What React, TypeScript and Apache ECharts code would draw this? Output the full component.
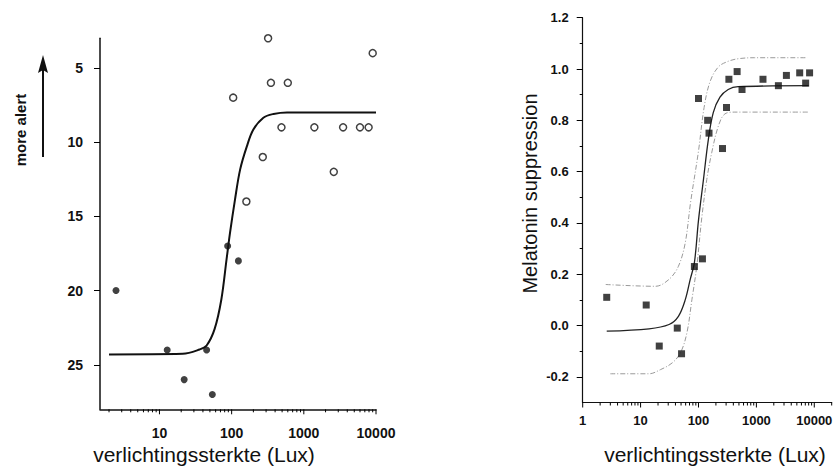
import React, { useEffect, useRef } from 'react';
import * as echarts from 'echarts';

const FONT = '"Liberation Sans", Arial, Helvetica, sans-serif';

// ---------- left panel ----------
const leftXMin = 1.5;
const leftXMax = 10000;
const leftYMin = 3;
const leftYMax = 28;
const leftYTicks = [5, 10, 15, 20, 25];
const leftMajorTicks = [10, 100, 1000, 10000];
const leftMinorTicks = [2, 3, 4, 5, 6, 7, 8, 9, 20, 30, 40, 50, 60, 70, 80, 90, 200, 300, 400, 500, 600, 700, 800, 900, 2000, 3000, 4000, 5000, 6000, 7000, 8000, 9000];

const leftFilledX = [2.5, 12.8, 22, 45, 54, 88, 124];
const leftFilledY = [20, 24, 26, 24, 27, 17, 18];
const leftOpenX = [105, 160, 270, 320, 350, 490, 600, 1400, 2600, 3500, 6000, 7900, 9000];
const leftOpenY = [7, 14, 11, 3, 6, 9, 6, 9, 12, 9, 9, 9, 4];
const leftCurveX = [2, 21, 36, 45, 58, 72, 85, 95, 111, 131, 162, 200, 275, 380, 585, 10000];
const leftCurveY = [24.3, 24.26, 23.97, 23.7, 22.6, 20.6, 17.9, 16.1, 13.9, 11.85, 10.3, 9.15, 8.35, 8.1, 8.0, 8.0];

// ---------- right panel ----------
const rightXMin = 1;
const rightXMax = 20000;
const rightYMin = -0.3;
const rightYMax = 1.2;
const rightYTicks = [-0.2, 0, 0.2, 0.4, 0.6, 0.8, 1.0, 1.2];
const rightYMinorTicks = [-0.1, 0.1, 0.3, 0.5, 0.7, 0.9, 1.1];
const rightMajorTicks = [1, 10, 100, 1000, 10000];
const rightMinorTicks = [2, 3, 4, 5, 6, 7, 8, 9, 20, 30, 40, 50, 60, 70, 80, 90, 200, 300, 400, 500, 600, 700, 800, 900, 2000, 3000, 4000, 5000, 6000, 7000, 8000, 9000, 20000];

const rightX = [2.6, 12.5, 21, 43, 51, 85, 100, 117, 144, 152, 260, 305, 335, 465, 565, 1300, 2400, 3300, 5600, 7100, 8300];
const rightY = [0.11, 0.08, -0.08, -0.01, -0.11, 0.23, 0.885, 0.26, 0.8, 0.75, 0.69, 0.85, 0.96, 0.99, 0.92, 0.96, 0.935, 0.975, 0.985, 0.945, 0.985];

const fitX = [2.6, 14, 31, 45, 59, 72, 85, 100, 122, 148, 180, 235, 326, 483, 8000];
const fitY = [-0.022, -0.013, 0.004, 0.036, 0.1, 0.18, 0.245, 0.41, 0.57, 0.725, 0.83, 0.89, 0.92, 0.931, 0.935];
const upperX = [2.5, 18, 31, 45, 59, 73, 100, 125, 158, 220, 326, 483, 930, 7600];
const upperY = [0.16, 0.153, 0.18, 0.231, 0.322, 0.48, 0.68, 0.85, 0.95, 1.008, 1.03, 1.04, 1.044, 1.044];
const lowerX = [3, 14, 22, 35, 48.7, 63, 77, 93.4, 114, 139, 169, 220, 286, 424, 8100];
const lowerY = [-0.188, -0.188, -0.172, -0.146, -0.107, -0.029, 0.101, 0.231, 0.42, 0.569, 0.673, 0.777, 0.825, 0.832, 0.832];

const zip = (xs: number[], ys: number[]) => xs.map((x, i) => [x, ys[i]]);

const tickSeries = (axisIndex: number, base: number, major: number[], minor: number[]) => ({
  type: 'custom',
  xAxisIndex: axisIndex,
  yAxisIndex: axisIndex,
  clip: false,
  silent: true,
  z: 5,
  data: major.map((v) => [v, base, 1]).concat(minor.map((v) => [v, base, 0])),
  renderItem: (_params: any, api: any) => {
    const p = api.coord([api.value(0), api.value(1)]);
    const len = api.value(2) ? 5 : 3;
    return {
      type: 'line',
      shape: { x1: p[0], y1: p[1], x2: p[0], y2: p[1] + len },
      style: { stroke: '#000', lineWidth: 1 },
    };
  },
});

export default function App() {
  const ref = useRef<HTMLDivElement>(null);
  useEffect(() => {
    if (!ref.current) return;
    const chart = echarts.init(ref.current, undefined, { renderer: 'svg' });
    const labelBase = { color: '#111', fontFamily: FONT, fontWeight: 'bold' as const };
    const textStyle = (text: string, fontSize: number, bold = false) => ({
      text, fontSize, fontWeight: bold ? 'bold' : 'normal', fontFamily: FONT, fill: '#111',
      align: 'center', verticalAlign: 'middle', textAlign: 'center', textVerticalAlign: 'middle',
    });
    const option: any = {
      animation: false,
      backgroundColor: '#fff',
      grid: [
        { left: 100, top: 38.3, width: 276, height: 371, containLabel: false, outerBoundsMode: 'none' },
        { left: 582.7, top: 17.7, width: 249, height: 384.8, containLabel: false, outerBoundsMode: 'none' },
      ],
      xAxis: [
        {
          gridIndex: 0, type: 'log', logBase: 10, min: leftXMin, max: leftXMax, splitNumber: 5,
          axisLine: { show: true, onZero: false, lineStyle: { color: '#111', width: 1.5 } },
          axisTick: { show: false }, splitLine: { show: false }, minorTick: { show: false },
          axisLabel: { ...labelBase, fontSize: 14, margin: 17, interval: 0, showMinLabel: false, showMaxLabel: true, formatter: (v: number) => String(v) },
        },
        {
          gridIndex: 1, type: 'log', logBase: 10, min: rightXMin, max: rightXMax, splitNumber: 5,
          axisLine: { show: true, onZero: false, lineStyle: { color: '#111', width: 1.2 } },
          axisTick: { show: false }, splitLine: { show: false }, minorTick: { show: false },
          axisLabel: { ...labelBase, fontSize: 13, margin: 11, interval: 0, showMinLabel: true, showMaxLabel: false, formatter: (v: number) => String(v) },
        },
      ],
      yAxis: [
        {
          gridIndex: 0, type: 'value', inverse: true, min: leftYMin, max: leftYMax,
          axisLine: { show: true, onZero: false, lineStyle: { color: '#111', width: 1.5 } },
          axisTick: { show: true, inside: false, length: 6, customValues: leftYTicks, lineStyle: { color: '#000', width: 1 } },
          axisLabel: { ...labelBase, fontSize: 14, margin: 17, customValues: leftYTicks },
          splitLine: { show: false },
        },
        {
          gridIndex: 1, type: 'value', min: rightYMin, max: rightYMax,
          axisLine: { show: true, onZero: false, lineStyle: { color: '#111', width: 1.2 } },
          axisTick: { show: true, inside: false, length: 6, customValues: rightYTicks, lineStyle: { color: '#000', width: 1 } },
          axisLabel: { ...labelBase, fontSize: 13, margin: 14, customValues: rightYTicks, formatter: (v: number) => v.toFixed(1) },
          splitLine: { show: false },
        },
        {
          gridIndex: 1, type: 'value', min: rightYMin, max: rightYMax, position: 'left',
          axisLine: { show: false, onZero: false },
          axisTick: { show: true, inside: false, length: 3, customValues: rightYMinorTicks, lineStyle: { color: '#000', width: 1 } },
          axisLabel: { show: false },
          splitLine: { show: false },
        },
      ],
      graphic: [
        { type: 'text', x: 20, y: 130, rotation: Math.PI / 2, style: textStyle('more alert', 15, true) },
        { type: 'line', shape: { x1: 43, y1: 157, x2: 43, y2: 68 }, style: { stroke: '#111', lineWidth: 2 } },
        { type: 'polygon', shape: { points: [[43, 55], [38, 73], [43, 70], [48, 73]] }, style: { fill: '#111' } },
        { type: 'text', x: 204, y: 454, style: textStyle('verlichtingssterkte (Lux)', 21) },
        { type: 'text', x: 715, y: 454, style: textStyle('verlichtingssterkte (Lux)', 21) },
        { type: 'text', x: 530, y: 193.5, rotation: Math.PI / 2, style: textStyle('Melatonin suppression', 20) },
      ],
      series: [
        tickSeries(0, leftYMax, leftMajorTicks, leftMinorTicks),
        tickSeries(1, rightYMin, rightMajorTicks, rightMinorTicks),
        {
          type: 'line', xAxisIndex: 0, yAxisIndex: 0, data: zip(leftCurveX, leftCurveY),
          showSymbol: false, symbol: 'none', smooth: 0.35, lineStyle: { color: '#111', width: 2 }, z: 2,
        },
        {
          type: 'scatter', xAxisIndex: 0, yAxisIndex: 0, data: zip(leftFilledX, leftFilledY), clip: false,
          symbol: 'circle', symbolSize: 7, itemStyle: { color: '#111' }, z: 3,
        },
        {
          type: 'scatter', xAxisIndex: 0, yAxisIndex: 0, data: zip(leftOpenX, leftOpenY), clip: false,
          symbol: 'circle', symbolSize: 7, itemStyle: { color: '#fff', borderColor: '#111', borderWidth: 1.5 }, z: 3,
        },
        {
          type: 'line', xAxisIndex: 1, yAxisIndex: 1, data: zip(upperX, upperY),
          showSymbol: false, symbol: 'none', smooth: 0.35, lineStyle: { color: '#9a9a9a', width: 1, type: [5, 2, 1, 2] }, z: 2,
        },
        {
          type: 'line', xAxisIndex: 1, yAxisIndex: 1, data: zip(lowerX, lowerY),
          showSymbol: false, symbol: 'none', smooth: 0.35, lineStyle: { color: '#9a9a9a', width: 1, type: [5, 2, 1, 2] }, z: 2,
        },
        {
          type: 'line', xAxisIndex: 1, yAxisIndex: 1, data: zip(fitX, fitY),
          showSymbol: false, symbol: 'none', smooth: 0.35, lineStyle: { color: '#222', width: 1.3 }, z: 2,
        },
        {
          type: 'scatter', xAxisIndex: 1, yAxisIndex: 1, data: zip(rightX, rightY), clip: false,
          symbol: 'rect', symbolSize: 7, itemStyle: { color: '#111' }, z: 3,
        },
      ],
    };
    chart.setOption(option);
    return () => chart.dispose();
  }, []);
  return <div ref={ref} style={{ position: 'absolute', left: 0, top: 0, width: 834, height: 466 }} />;
}
